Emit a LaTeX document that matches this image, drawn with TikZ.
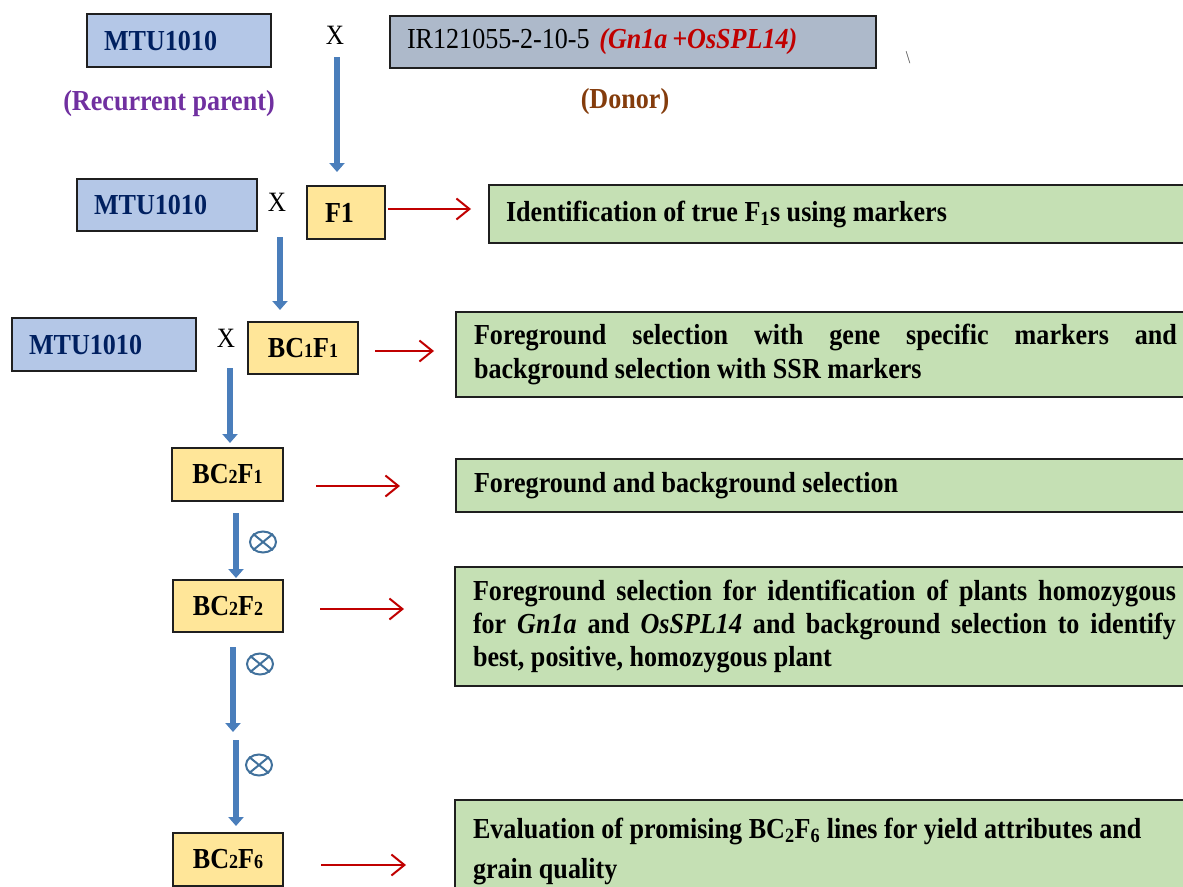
\documentclass[tikz,border=0pt]{standalone}
\usepackage{fontspec}
\setmainfont{Liberation Serif}[FakeStretch=0.9]
\usetikzlibrary{arrows.meta,shapes.geometric,calc}
\definecolor{boxblue}{RGB}{180,199,231}
\definecolor{navy}{RGB}{0,32,96}
\definecolor{donorgray}{RGB}{173,185,202}
\definecolor{darkred}{RGB}{192,0,0}
\definecolor{purp}{RGB}{112,48,160}
\definecolor{brownish}{RGB}{132,60,12}
\definecolor{yel}{RGB}{255,230,153}
\definecolor{grn}{RGB}{197,224,180}
\definecolor{arrblue}{RGB}{74,126,187}
\definecolor{symblue}{RGB}{65,113,156}
\tikzset{
  x=1pt, y=-1pt,
  box/.style={draw=black!88, line width=1.4pt, inner ysep=0pt, outer sep=0pt, anchor=north west},
  parentbox/.style={box, fill=boxblue, text=navy, align=left, inner xsep=17pt,
     font=\fontsize{29}{33}\selectfont\bfseries},
  genbox/.style={box, fill=yel, align=center, inner xsep=0pt,
     font=\fontsize{29}{33}\selectfont\bfseries},
  notebox/.style={box, fill=grn, align=justify, inner xsep=18pt, text width=703pt,
     font=\fontsize{29}{33}\selectfont\bfseries},
  crossmark/.style={font=\fontsize{28}{28}\selectfont},
  bluearrow/.style={draw=arrblue, line width=6pt, -{Triangle[length=9pt,width=15pt]}},
  redarrow/.style={draw=darkred, line width=2pt, -{Straight Barb[length=13pt,width=21pt,line width=2pt]}},
  selfsym/.style={ellipse, draw=symblue, line width=2pt, minimum width=26pt, minimum height=21pt, inner sep=0pt},
}
\newcommand{\sm}[1]{{\fontsize{20}{20}\selectfont #1}}
\begin{document}
\begin{tikzpicture}
\useasboundingbox (0,0) rectangle (1183,886);

% parents
\node[parentbox, text width=150pt, minimum height=53pt] (P1) at (87,14) {MTU1010};
\node[crossmark] (X1) at (335,35) {X};
\node[box, fill=donorgray, minimum height=52pt, text width=452pt, inner xsep=17pt, align=left,
      font=\fontsize{29}{33}\selectfont] (D) at (390,16)
  {IR121055-2-10-5 \textcolor{darkred}{\bfseries\itshape (Gn1a\,+OsSPL14)}};
\node[text=black!70, font=\fontsize{18}{18}\selectfont] (bs) at (908,58) {\textbackslash};
\node[text=purp, font=\fontsize{29}{30}\selectfont\bfseries] (RP) at (169,104) {(Recurrent parent)};
\node[text=brownish, font=\fontsize{29}{30}\selectfont\bfseries] (DL) at (625,102) {(Donor)};

% row F1
\node[parentbox, text width=146pt, minimum height=52pt] (P2) at (77,179) {MTU1010};
\node[crossmark] (X2) at (277,202) {X};
\node[genbox, minimum height=53pt, text width=42pt, align=left, inner xsep=18pt] (F1) at (307,186) {F1};
\node[notebox, minimum height=58pt, text width=676pt, inner xsep=17pt] (G1) at (489,185)
  {Identification of true F\textsubscript{1}s using markers};

% row BC1F1
\node[parentbox, text width=150pt, minimum height=53pt] (P3) at (12,318) {MTU1010};
\node[crossmark] (X3) at (226,338) {X};
\node[genbox, minimum width=110pt, minimum height=52pt] (B11) at (248,322) {BC\sm{1}F\sm{1}};
\node[notebox, minimum height=85pt, font=\fontsize{29}{34}\selectfont\bfseries] (G2) at (456,312)
  {Foreground selection with gene specific markers and\linebreak background selection with SSR markers};

% row BC2F1
\node[genbox, minimum width=111pt, minimum height=53pt] (B21) at (172,448) {BC\sm{2}F\sm{1}};
\node[notebox, minimum height=53pt] (G3) at (456,459) {Foreground and background selection};

% row BC2F2
\node[genbox, minimum width=110pt, minimum height=52pt] (B22) at (173,580) {BC\sm{2}F\sm{2}};
\node[notebox, minimum height=119pt] (G4) at (455,567)
  {Foreground selection for identification of plants homozygous\linebreak
   for \textit{Gn1a} and \textit{OsSPL14} and background selection to identify\linebreak
   best, positive, homozygous plant};

% row BC2F6
\node[genbox, minimum width=110pt, minimum height=53pt] (B26) at (173,833) {BC\sm{2}F\sm{6}};
\node[notebox, minimum height=102pt, font=\fontsize{29}{40}\selectfont\bfseries] (G5) at (455,800)
  {Evaluation of promising BC\textsubscript{2}F\textsubscript{6} lines for yield attributes and\\
   grain quality};

% selfing symbols
\node[selfsym] (S1) at (263,542) {};
\node[selfsym] (S2) at (260,664) {};
\node[selfsym] (S3) at (259,765) {};
\foreach \s in {S1,S2,S3}{
  \draw[symblue, line width=2pt] (\s.north east) -- (\s.south west) (\s.north west) -- (\s.south east);
}

% blue arrow coordinates
\coordinate (a1s) at (337,57);   \coordinate (a1e) at (337,172);
\coordinate (a2s) at (280,237);  \coordinate (a2e) at (280,310);
\coordinate (a3s) at (230,368);  \coordinate (a3e) at (230,443);
\coordinate (a4s) at (236,513);  \coordinate (a4e) at (236,578);
\coordinate (a5s) at (233,647);  \coordinate (a5e) at (233,732);
\coordinate (a6s) at (236,740);  \coordinate (a6e) at (236,826);
\foreach \i in {1,...,6}{ \draw[bluearrow] (a\i s) -- (a\i e); }

% red arrow coordinates
\coordinate (r1s) at (388,209);  \coordinate (r1e) at (471,209);
\coordinate (r2s) at (375,351);  \coordinate (r2e) at (434,351);
\coordinate (r3s) at (316,486);  \coordinate (r3e) at (400,486);
\coordinate (r4s) at (320,609);  \coordinate (r4e) at (404,609);
\coordinate (r5s) at (321,865);  \coordinate (r5e) at (406,865);
\foreach \i in {1,...,5}{ \draw[redarrow] (r\i s) -- (r\i e); }
\end{tikzpicture}
\end{document}
